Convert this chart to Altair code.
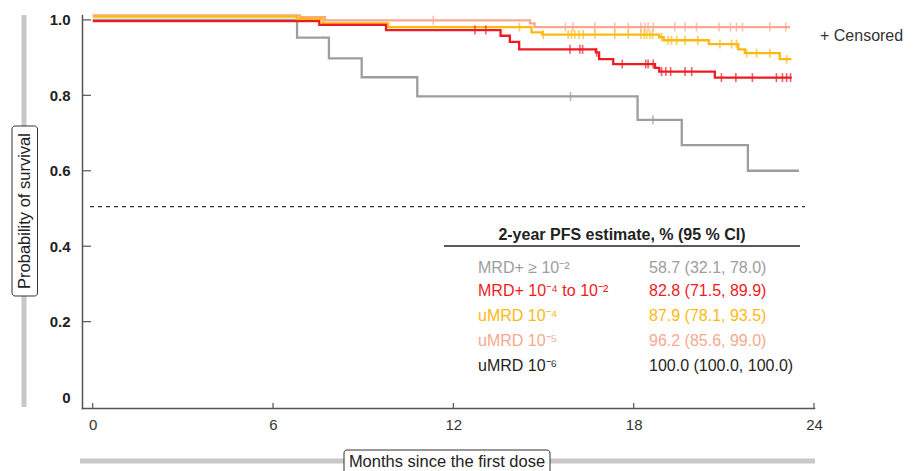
import altair as alt
import pandas as pd

# ---------------- data ----------------
group_labels = ["MRD+ \u2265 10\u207b\u00b2", "MRD+ 10\u207b\u2074 to 10\u207b\u00b2",
                "uMRD 10\u207b\u2074", "uMRD 10\u207b\u2075", "uMRD 10\u207b\u2076"]
estimates = ["58.7 (32.1, 78.0)", "82.8 (71.5, 89.9)", "87.9 (78.1, 93.5)",
             "96.2 (85.6, 99.0)", "100.0 (100.0, 100.0)"]
colors = ["#9d9d9d", "#ed1c24", "#fdb913", "#f9a88e", "#231f20"]

gray_t = [0, 6.8, 7.86, 8.95, 10.8, 18.13, 19.6, 21.8, 23.5]
gray_s = [1.0, 0.953, 0.898, 0.848, 0.797, 0.735, 0.668, 0.600, 0.600]
gray_c = [15.9, 18.64]

red_t = [0, 7.54, 9.76, 13.57, 13.88, 14.19, 16.74, 16.85, 17.32, 18.71, 18.85, 20.7, 23.26]
red_s = [0.997, 0.987, 0.973, 0.958, 0.942, 0.922, 0.914, 0.896, 0.883, 0.873, 0.863, 0.847, 0.847]
red_c = [12.72, 13.08, 15.88, 16.21, 16.3, 16.77, 17.62, 18.4, 18.48, 18.65, 18.93, 19.07,
         19.23, 19.71, 19.93, 20.92, 21.4, 21.95, 22.75, 22.95, 23.09, 23.22]

yel_t = [0, 6.79, 7.65, 9.83, 14.6, 14.96, 18.85, 19.0, 20.5, 21.48, 21.7, 22.86, 23.25]
yel_s = [1.009, 1.003, 0.991, 0.981, 0.967, 0.961, 0.954, 0.946, 0.936, 0.922, 0.912, 0.896, 0.896]
yel_c = [14.2, 14.99, 15.82, 15.93, 16.04, 16.18, 16.32, 16.71, 17.37, 17.82, 18.24, 18.35,
         18.43, 18.54, 18.63, 18.93, 19.15, 19.26, 19.43, 19.71, 20.13, 20.87, 21.26, 21.42,
         21.76, 22.09, 22.53, 23.09]

sal_t = [0, 6.9, 7.73, 14.55, 14.7, 23.2]
sal_s = [1.012, 1.007, 0.999, 0.991, 0.981, 0.981]
sal_c = [11.33, 15.73, 15.98, 16.71, 17.37, 17.82, 18.24, 18.37, 18.48, 18.65, 19.37, 19.71,
         20.09, 20.84, 21.22, 21.42, 21.62, 22.53, 23.06]

x_ticks = [0, 6, 12, 18, 24]
y_ticks = [0, 0.2, 0.4, 0.6, 0.8, 1.0]
dash_level = 0.505

FONT = "Liberation Sans"
W, H = 732, 393


def step_value(ts, ss, t):
    v = ss[0]
    for ti, si in zip(ts, ss):
        if ti <= t:
            v = si
    return v


xs = alt.Scale(domain=[-0.356, 24], nice=False, zero=False)
ys = alt.Scale(domain=[-0.029, 1.013], nice=False, zero=False)

x_axis = alt.Axis(values=x_ticks, ticks=False, title=None, grid=False, labelFontSize=15,
                  labelPadding=9, domainColor="#555555", domainWidth=1.5, labelColor="#333333",
                  labelFlush=False, labelFont=FONT)
y_axis = alt.Axis(values=y_ticks, ticks=False, title=None, grid=False, labelFontSize=15,
                  labelPadding=12, domainColor="#555555", domainWidth=1.5, labelColor="#222222",
                  labelFontWeight="bold", labelFont=FONT,
                  labelExpr="datum.value == 0 ? '0' : format(datum.value, '.1f')")

one = pd.DataFrame({"k": [0]})

layers = []

# dashed median line
layers.append(
    alt.Chart(one).mark_rule(color="#333333", strokeWidth=1.2, strokeDash=[4, 4]).encode(
        x=alt.datum(-0.09, scale=xs, axis=x_axis),
        x2=alt.datum(23.7),
        y=alt.datum(dash_level, scale=ys, axis=y_axis),
    )
)

series = [
    (gray_t, gray_s, gray_c, colors[0]),
    (sal_t, sal_s, sal_c, colors[3]),
    (yel_t, yel_s, yel_c, colors[2]),
    (red_t, red_s, red_c, colors[1]),
]

for ts, ss, cs, col in series:
    df = pd.DataFrame({"t": ts, "s": ss})
    layers.append(
        alt.Chart(df).mark_line(interpolate="step-after", color=col, strokeWidth=2.3).encode(
            x=alt.X("t:Q", scale=xs, axis=x_axis),
            y=alt.Y("s:Q", scale=ys, axis=y_axis),
            order="t:Q",
        )
    )
for ts, ss, cs, col in series:
    dc = pd.DataFrame({"t": cs, "s": [step_value(ts, ss, c) for c in cs]})
    layers.append(
        alt.Chart(dc).mark_tick(orient="vertical", color=col, size=9, thickness=1.6).encode(
            x=alt.X("t:Q", scale=xs, axis=x_axis),
            y=alt.Y("s:Q", scale=ys, axis=y_axis),
        )
    )

# inward axis ticks
layers.append(
    alt.Chart(pd.DataFrame({"s": y_ticks[1:]})).mark_rule(color="#555555", strokeWidth=1.2).encode(
        x=alt.value(0), x2=alt.value(9), y=alt.Y("s:Q", scale=ys, axis=y_axis)
    )
)
layers.append(
    alt.Chart(pd.DataFrame({"t": x_ticks})).mark_rule(color="#555555", strokeWidth=1.2).encode(
        x=alt.X("t:Q", scale=xs, axis=x_axis), y=alt.value(H), y2=alt.value(H - 5)
    )
)

# y-axis title with grey bar and box
layers.append(alt.Chart(one).mark_rule(color="#c8c8c8", strokeWidth=5).encode(
    x=alt.value(-58), y=alt.value(0), y2=alt.value(392)))
layers.append(alt.Chart(one).mark_rect(fill="white", stroke="#333333", strokeWidth=1,
                                       cornerRadius=3).encode(
    x=alt.value(-70), x2=alt.value(-44.5), y=alt.value(111), y2=alt.value(281)))
layers.append(alt.Chart(one).mark_text(angle=270, align="center", baseline="middle", fontSize=16.5,
                                       font=FONT, color="#222222").encode(
    x=alt.value(-57), y=alt.value(196), text=alt.value("Probability of survival")))

# x-axis title with grey bar and box
layers.append(alt.Chart(one).mark_rule(color="#c8c8c8", strokeWidth=5).encode(
    x=alt.value(-2), x2=alt.value(733), y=alt.value(446)))
layers.append(alt.Chart(one).mark_rect(fill="white", stroke="#333333", strokeWidth=1,
                                       cornerRadius=3).encode(
    x=alt.value(262), x2=alt.value(468), y=alt.value(435), y2=alt.value(460)))
layers.append(alt.Chart(one).mark_text(align="center", baseline="middle", fontSize=16.5,
                                       font=FONT, color="#222222").encode(
    x=alt.value(365), y=alt.value(447), text=alt.value("Months since the first dose")))

# censored legend
layers.append(alt.Chart(one).mark_text(align="left", baseline="middle", fontSize=16,
                                       font=FONT, color="#333333").encode(
    x=alt.value(738), y=alt.value(21), text=alt.value("+ Censored")))

# estimate table
layers.append(alt.Chart(one).mark_text(align="center", baseline="middle", fontSize=16,
                                       fontWeight="bold", font=FONT, color="#222222").encode(
    x=alt.value(540), y=alt.value(220), text=alt.value("2-year PFS estimate, % (95 % CI)")))
layers.append(alt.Chart(one).mark_rule(color="#222222", strokeWidth=1.3).encode(
    x=alt.value(362), x2=alt.value(718), y=alt.value(231)))
row_y = [253, 276, 301, 326, 351]
for lab, est, col, yy in zip(group_labels, estimates, colors, row_y):
    layers.append(alt.Chart(one).mark_text(align="left", baseline="middle", fontSize=16,
                                           font=FONT, color=col).encode(
        x=alt.value(396), y=alt.value(yy), text=alt.value(lab)))
    layers.append(alt.Chart(one).mark_text(align="left", baseline="middle", fontSize=16,
                                           font=FONT, color=col).encode(
        x=alt.value(567), y=alt.value(yy), text=alt.value(est)))

chart = alt.layer(*layers).properties(
    width=W, height=H,
    autosize=alt.AutoSizeParams(type="none"),
    padding={"left": 82, "top": 15, "right": 102, "bottom": 63},
    background="white",
).configure_view(stroke=None).configure_axis(domainCap="square")

chart.save("out.html", embed_options={"renderer": "svg", "actions": False})
